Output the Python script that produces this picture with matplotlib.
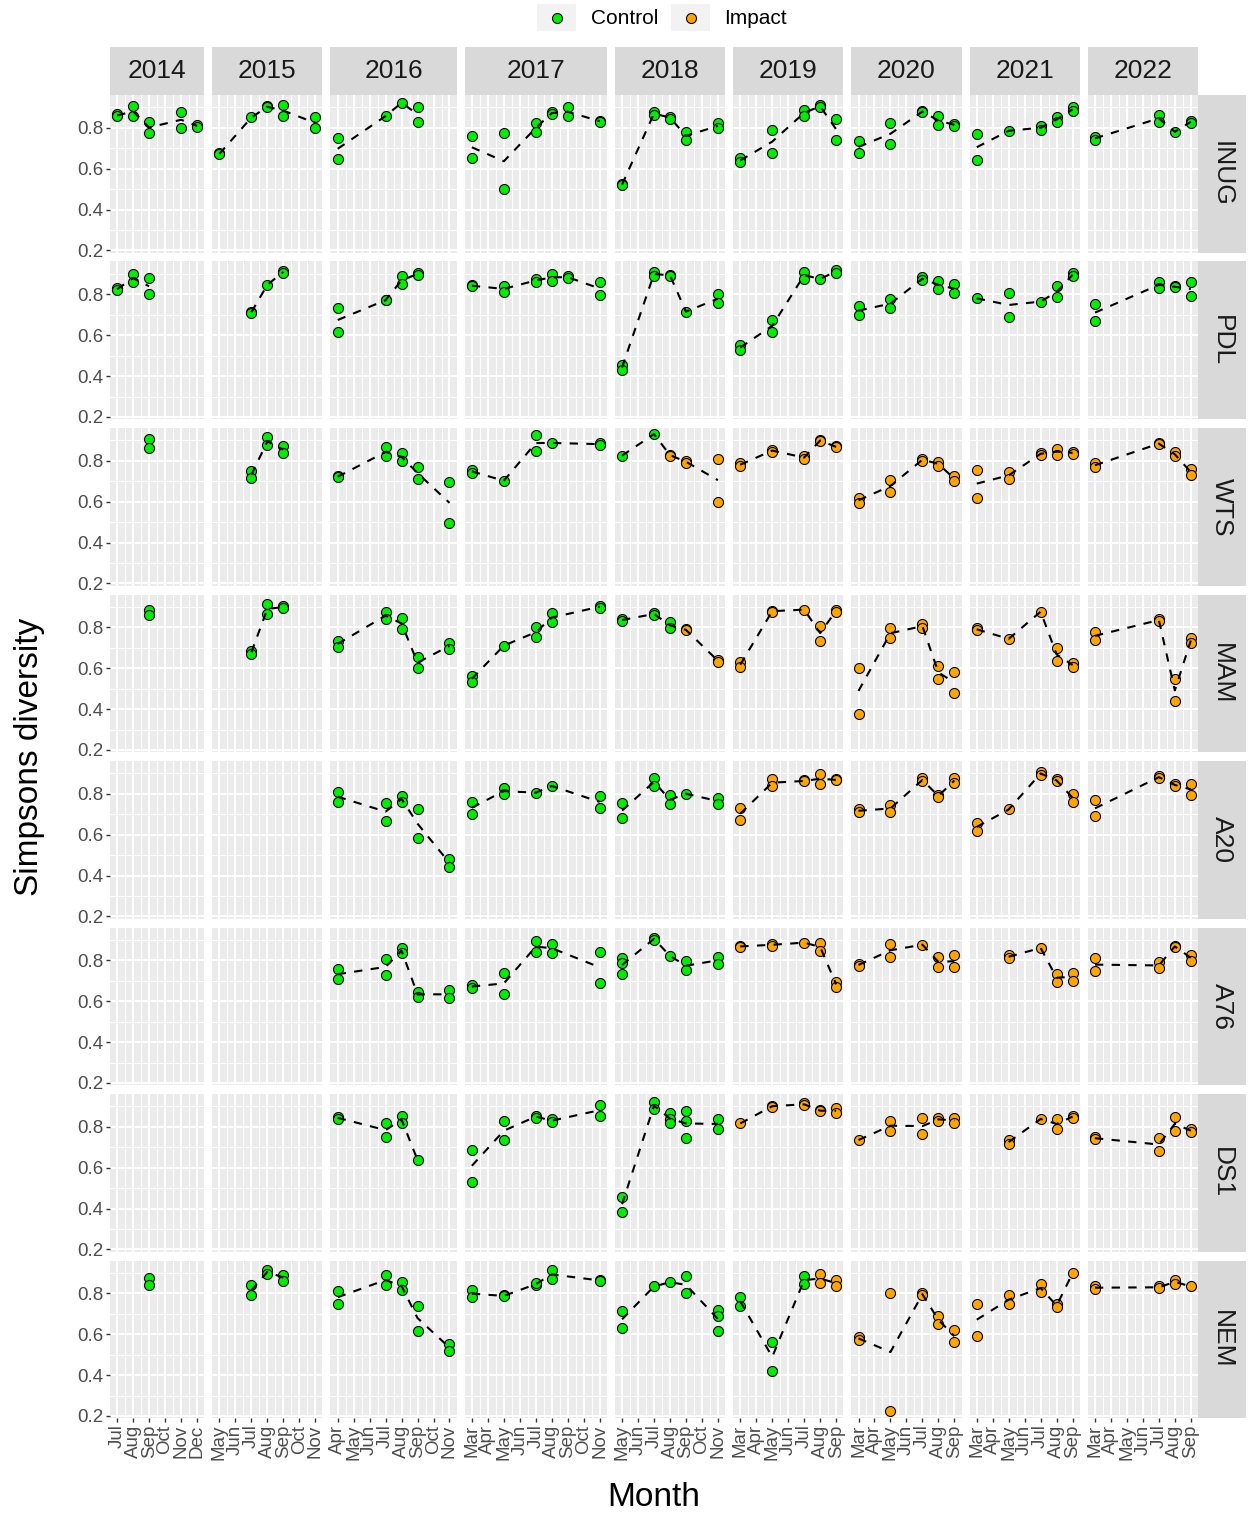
import matplotlib
matplotlib.use("Agg")
import matplotlib.pyplot as plt
from matplotlib.patches import Rectangle
from matplotlib.lines import Line2D
import pandas as pd

plt.rcParams['font.family'] = ['Liberation Sans', 'DejaVu Sans']

# ---------------- data ----------------
years = [2014, 2015, 2016, 2017, 2018, 2019, 2020, 2021, 2022]
year_months = {
    2014: [7, 8, 9, 10, 11, 12],
    2015: [5, 6, 7, 8, 9, 10, 11],
    2016: [4, 5, 6, 7, 8, 9, 10, 11],
    2017: [3, 4, 5, 6, 7, 8, 9, 10, 11],
    2018: [5, 6, 7, 8, 9, 10, 11],
    2019: [3, 4, 5, 6, 7, 8, 9],
    2020: [3, 4, 5, 6, 7, 8, 9],
    2021: [3, 4, 5, 6, 7, 8, 9],
    2022: [3, 4, 5, 6, 7, 8, 9],
}
month_abbr = {3: 'Mar', 4: 'Apr', 5: 'May', 6: 'Jun', 7: 'Jul', 8: 'Aug',
              9: 'Sep', 10: 'Oct', 11: 'Nov', 12: 'Dec'}
sites = ['INUG', 'PDL', 'WTS', 'MAM', 'A20', 'A76', 'DS1', 'NEM']

# (year, month, group, values)
INUG = [
    (2014, 7, 'C', [0.865, 0.855]), (2014, 8, 'C', [0.905, 0.855]), (2014, 9, 'C', [0.83, 0.772]),
    (2014, 11, 'C', [0.878, 0.80]), (2014, 12, 'C', [0.813, 0.805]),
    (2015, 5, 'C', [0.675, 0.67]), (2015, 7, 'C', [0.85]), (2015, 8, 'C', [0.905, 0.90]),
    (2015, 9, 'C', [0.91, 0.857]), (2015, 11, 'C', [0.85, 0.797]),
    (2016, 4, 'C', [0.748, 0.646]), (2016, 7, 'C', [0.857]), (2016, 8, 'C', [0.922]),
    (2016, 9, 'C', [0.902, 0.83]),
    (2017, 3, 'C', [0.759, 0.65]), (2017, 5, 'C', [0.772, 0.50]), (2017, 7, 'C', [0.821, 0.777]),
    (2017, 8, 'C', [0.878, 0.865]), (2017, 9, 'C', [0.899, 0.857]), (2017, 11, 'C', [0.834, 0.83]),
    (2018, 5, 'C', [0.524, 0.52]), (2018, 7, 'C', [0.878, 0.86]), (2018, 8, 'C', [0.854, 0.845]),
    (2018, 9, 'C', [0.78, 0.74]), (2018, 11, 'C', [0.821, 0.797]),
    (2019, 3, 'C', [0.65, 0.63]), (2019, 5, 'C', [0.789, 0.675]), (2019, 7, 'C', [0.889, 0.857]),
    (2019, 8, 'C', [0.91, 0.90]), (2019, 9, 'C', [0.845, 0.74]),
    (2020, 3, 'C', [0.737, 0.675]), (2020, 5, 'C', [0.821, 0.72]), (2020, 7, 'C', [0.883, 0.875]),
    (2020, 8, 'C', [0.857, 0.813]), (2020, 9, 'C', [0.82, 0.808]),
    (2021, 3, 'C', [0.767, 0.642]), (2021, 5, 'C', [0.785]), (2021, 7, 'C', [0.81, 0.79]),
    (2021, 8, 'C', [0.85, 0.83]), (2021, 9, 'C', [0.90, 0.88]),
    (2022, 3, 'C', [0.756, 0.74]), (2022, 7, 'C', [0.862, 0.83]), (2022, 8, 'C', [0.78]),
    (2022, 9, 'C', [0.834, 0.824]),
]
PDL = [
    (2014, 7, 'C', [0.83, 0.82]), (2014, 8, 'C', [0.898, 0.859]), (2014, 9, 'C', [0.878, 0.80]),
    (2015, 7, 'C', [0.715, 0.71]), (2015, 8, 'C', [0.846]), (2015, 9, 'C', [0.914, 0.905]),
    (2016, 4, 'C', [0.731, 0.617]), (2016, 7, 'C', [0.772, 0.77]), (2016, 8, 'C', [0.887, 0.849]),
    (2016, 9, 'C', [0.903, 0.895]),
    (2017, 3, 'C', [0.845, 0.838]), (2017, 5, 'C', [0.842, 0.81]), (2017, 7, 'C', [0.875, 0.86]),
    (2017, 8, 'C', [0.90, 0.865]), (2017, 9, 'C', [0.887, 0.88]), (2017, 11, 'C', [0.859, 0.797]),
    (2018, 5, 'C', [0.454, 0.43]), (2018, 7, 'C', [0.908, 0.89]), (2018, 8, 'C', [0.895, 0.89]),
    (2018, 9, 'C', [0.715]), (2018, 11, 'C', [0.80, 0.756]),
    (2019, 3, 'C', [0.552, 0.527]), (2019, 5, 'C', [0.674, 0.617]), (2019, 7, 'C', [0.911, 0.875]),
    (2019, 8, 'C', [0.875]), (2019, 9, 'C', [0.919, 0.905]),
    (2020, 3, 'C', [0.74, 0.70]), (2020, 5, 'C', [0.777, 0.731]), (2020, 7, 'C', [0.882, 0.87]),
    (2020, 8, 'C', [0.865, 0.826]), (2020, 9, 'C', [0.849, 0.805]),
    (2021, 3, 'C', [0.78]), (2021, 5, 'C', [0.805, 0.69]), (2021, 7, 'C', [0.764]),
    (2021, 8, 'C', [0.838, 0.784]), (2021, 9, 'C', [0.903, 0.887]),
    (2022, 3, 'C', [0.751, 0.669]), (2022, 7, 'C', [0.862, 0.83]), (2022, 8, 'C', [0.838, 0.835]),
    (2022, 9, 'C', [0.862, 0.789]),
]
WTS = [
    (2014, 9, 'C', [0.908, 0.862]),
    (2015, 7, 'C', [0.748, 0.715]), (2015, 8, 'C', [0.914, 0.875]), (2015, 9, 'C', [0.87, 0.838]),
    (2016, 4, 'C', [0.723, 0.72]), (2016, 7, 'C', [0.865, 0.821]), (2016, 8, 'C', [0.838, 0.80]),
    (2016, 9, 'C', [0.767, 0.712]), (2016, 11, 'C', [0.694, 0.494]),
    (2017, 3, 'C', [0.756, 0.74]), (2017, 5, 'C', [0.702]), (2017, 7, 'C', [0.924, 0.849]),
    (2017, 8, 'C', [0.887]), (2017, 11, 'C', [0.887, 0.875]),
    (2018, 5, 'C', [0.825]), (2018, 7, 'C', [0.93]), (2018, 8, 'I', [0.83, 0.825]),
    (2018, 9, 'I', [0.80, 0.79]), (2018, 11, 'I', [0.81, 0.60]),
    (2019, 3, 'I', [0.789, 0.772]), (2019, 5, 'I', [0.854, 0.845]), (2019, 7, 'I', [0.821, 0.81]),
    (2019, 8, 'I', [0.903, 0.895]), (2019, 9, 'I', [0.87, 0.865]),
    (2020, 3, 'I', [0.62, 0.593]), (2020, 5, 'I', [0.707, 0.646]), (2020, 7, 'I', [0.81, 0.80]),
    (2020, 8, 'I', [0.795, 0.775]), (2020, 9, 'I', [0.723, 0.70]),
    (2021, 3, 'I', [0.756, 0.62]), (2021, 5, 'I', [0.745, 0.712]), (2021, 7, 'I', [0.838, 0.83]),
    (2021, 8, 'I', [0.859, 0.83]), (2021, 9, 'I', [0.842, 0.835]),
    (2022, 3, 'I', [0.789, 0.767]), (2022, 7, 'I', [0.887, 0.88]), (2022, 8, 'I', [0.842, 0.821]),
    (2022, 9, 'I', [0.76, 0.728]),
]
MAM = [
    (2014, 9, 'C', [0.886, 0.86]),
    (2015, 7, 'C', [0.686, 0.67]), (2015, 8, 'C', [0.914, 0.865]), (2015, 9, 'C', [0.902, 0.895]),
    (2016, 4, 'C', [0.735, 0.702]), (2016, 7, 'C', [0.873, 0.84]), (2016, 8, 'C', [0.844, 0.792]),
    (2016, 9, 'C', [0.654, 0.60]), (2016, 11, 'C', [0.724, 0.694]),
    (2017, 3, 'C', [0.564, 0.532]), (2017, 5, 'C', [0.71]), (2017, 7, 'C', [0.80, 0.751]),
    (2017, 8, 'C', [0.87, 0.824]), (2017, 11, 'C', [0.906, 0.895]),
    (2018, 5, 'C', [0.84, 0.83]), (2018, 7, 'C', [0.87, 0.86]), (2018, 8, 'C', [0.824, 0.795]),
    (2018, 9, 'I', [0.789, 0.785]), (2018, 11, 'I', [0.642, 0.63]),
    (2019, 3, 'I', [0.629, 0.605]), (2019, 5, 'I', [0.881, 0.876]), (2019, 7, 'I', [0.886]),
    (2019, 8, 'I', [0.808, 0.735]), (2019, 9, 'I', [0.886, 0.875]),
    (2020, 3, 'I', [0.60, 0.377]), (2020, 5, 'I', [0.795, 0.746]), (2020, 7, 'I', [0.816, 0.795]),
    (2020, 8, 'I', [0.61, 0.548]), (2020, 9, 'I', [0.58, 0.48]),
    (2021, 3, 'I', [0.795, 0.785]), (2021, 5, 'I', [0.743]), (2021, 7, 'I', [0.876]),
    (2021, 8, 'I', [0.697, 0.637]), (2021, 9, 'I', [0.626, 0.605]),
    (2022, 3, 'I', [0.776, 0.74]), (2022, 7, 'I', [0.84, 0.83]), (2022, 8, 'I', [0.545, 0.437]),
    (2022, 9, 'I', [0.746, 0.724]),
]
A20 = [
    (2016, 4, 'C', [0.81, 0.761]), (2016, 7, 'C', [0.756, 0.669]), (2016, 8, 'C', [0.789, 0.761]),
    (2016, 9, 'C', [0.723, 0.584]), (2016, 11, 'C', [0.483, 0.44]),
    (2017, 3, 'C', [0.761, 0.702]), (2017, 5, 'C', [0.826, 0.80]), (2017, 7, 'C', [0.805]),
    (2017, 8, 'C', [0.838]), (2017, 11, 'C', [0.789, 0.731]),
    (2018, 5, 'C', [0.756, 0.679]), (2018, 7, 'C', [0.878, 0.838]), (2018, 8, 'C', [0.793, 0.748]),
    (2018, 9, 'C', [0.80]), (2018, 11, 'C', [0.78, 0.748]),
    (2019, 3, 'I', [0.731, 0.674]), (2019, 5, 'I', [0.87, 0.838]), (2019, 7, 'I', [0.865, 0.86]),
    (2019, 8, 'I', [0.898, 0.849]), (2019, 9, 'I', [0.87, 0.865]),
    (2020, 3, 'I', [0.723, 0.71]), (2020, 5, 'I', [0.744, 0.712]), (2020, 7, 'I', [0.875, 0.86]),
    (2020, 8, 'I', [0.793, 0.785]), (2020, 9, 'I', [0.875, 0.854]),
    (2021, 3, 'I', [0.658, 0.617]), (2021, 5, 'I', [0.723]), (2021, 7, 'I', [0.908, 0.89]),
    (2021, 8, 'I', [0.87, 0.86]), (2021, 9, 'I', [0.80, 0.76]),
    (2022, 3, 'I', [0.767, 0.69]), (2022, 7, 'I', [0.887, 0.875]), (2022, 8, 'I', [0.846, 0.84]),
    (2022, 9, 'I', [0.849, 0.793]),
]
A76 = [
    (2016, 4, 'C', [0.756, 0.707]), (2016, 7, 'C', [0.805, 0.73]), (2016, 8, 'C', [0.86, 0.833]),
    (2016, 9, 'C', [0.646, 0.62]), (2016, 11, 'C', [0.654, 0.613]),
    (2017, 3, 'C', [0.681, 0.662]), (2017, 5, 'C', [0.74, 0.633]), (2017, 7, 'C', [0.893, 0.84]),
    (2017, 8, 'C', [0.881, 0.837]), (2017, 11, 'C', [0.84, 0.691]),
    (2018, 5, 'C', [0.81, 0.785, 0.735]), (2018, 7, 'C', [0.909, 0.90]), (2018, 8, 'C', [0.821]),
    (2018, 9, 'C', [0.795, 0.751]), (2018, 11, 'C', [0.816, 0.784]),
    (2019, 3, 'I', [0.87, 0.865]), (2019, 5, 'I', [0.881, 0.87]), (2019, 7, 'I', [0.886]),
    (2019, 8, 'I', [0.886, 0.844]), (2019, 9, 'I', [0.694, 0.67]),
    (2020, 3, 'I', [0.784, 0.77]), (2020, 5, 'I', [0.881, 0.816]), (2020, 7, 'I', [0.876]),
    (2020, 8, 'I', [0.816, 0.767]), (2020, 9, 'I', [0.824, 0.767]),
    (2021, 5, 'I', [0.824, 0.81]), (2021, 7, 'I', [0.86]), (2021, 8, 'I', [0.735, 0.694]),
    (2021, 9, 'I', [0.74, 0.698]),
    (2022, 3, 'I', [0.811, 0.746]), (2022, 7, 'I', [0.789, 0.76]), (2022, 8, 'I', [0.87, 0.865]),
    (2022, 9, 'I', [0.828, 0.795]),
]
DS1 = [
    (2016, 4, 'C', [0.849, 0.838]), (2016, 7, 'C', [0.816, 0.751]), (2016, 8, 'C', [0.854, 0.816]),
    (2016, 9, 'C', [0.637]),
    (2017, 3, 'C', [0.686, 0.532]), (2017, 5, 'C', [0.826, 0.735]), (2017, 7, 'C', [0.854, 0.845]),
    (2017, 8, 'C', [0.838, 0.821]), (2017, 11, 'C', [0.908, 0.854]),
    (2018, 5, 'C', [0.457, 0.385]), (2018, 7, 'C', [0.919, 0.887]), (2018, 8, 'C', [0.865, 0.838, 0.816]),
    (2018, 9, 'C', [0.875, 0.829, 0.744]), (2018, 11, 'C', [0.838, 0.789]),
    (2019, 3, 'I', [0.816]), (2019, 5, 'I', [0.903, 0.898]), (2019, 7, 'I', [0.914, 0.905]),
    (2019, 8, 'I', [0.882, 0.875]), (2019, 9, 'I', [0.89, 0.865]),
    (2020, 3, 'I', [0.735]), (2020, 5, 'I', [0.83, 0.78]), (2020, 7, 'I', [0.842, 0.764]),
    (2020, 8, 'I', [0.842, 0.83]), (2020, 9, 'I', [0.842, 0.82]),
    (2021, 5, 'I', [0.735, 0.715]), (2021, 7, 'I', [0.838]), (2021, 8, 'I', [0.838, 0.789]),
    (2021, 9, 'I', [0.854, 0.845]),
    (2022, 3, 'I', [0.748, 0.74]), (2022, 7, 'I', [0.744, 0.682]), (2022, 8, 'I', [0.849, 0.78]),
    (2022, 9, 'I', [0.789, 0.772]),
]
NEM = [
    (2014, 9, 'C', [0.875, 0.842]),
    (2015, 7, 'C', [0.838, 0.789]), (2015, 8, 'C', [0.914, 0.895]), (2015, 9, 'C', [0.891, 0.862]),
    (2016, 4, 'C', [0.813, 0.748]), (2016, 7, 'C', [0.891, 0.838]), (2016, 8, 'C', [0.854, 0.816]),
    (2016, 9, 'C', [0.74, 0.617]), (2016, 11, 'C', [0.552, 0.516]),
    (2017, 3, 'C', [0.816, 0.78]), (2017, 5, 'C', [0.789, 0.785]), (2017, 7, 'C', [0.838, 0.85]),
    (2017, 8, 'C', [0.914, 0.87]), (2017, 11, 'C', [0.865, 0.86]),
    (2018, 5, 'C', [0.715, 0.63]), (2018, 7, 'C', [0.833]), (2018, 8, 'C', [0.854]),
    (2018, 9, 'C', [0.882, 0.80]), (2018, 11, 'C', [0.718, 0.69, 0.614]),
    (2019, 3, 'C', [0.78, 0.74]), (2019, 5, 'C', [0.56, 0.418]), (2019, 7, 'C', [0.882, 0.846]),
    (2019, 8, 'I', [0.895, 0.849]), (2019, 9, 'I', [0.865, 0.833]),
    (2020, 3, 'I', [0.588, 0.57]), (2020, 5, 'I', [0.80, 0.225]), (2020, 7, 'I', [0.80, 0.79]),
    (2020, 8, 'I', [0.69, 0.65]), (2020, 9, 'I', [0.62, 0.56]),
    (2021, 3, 'I', [0.748, 0.593]), (2021, 5, 'I', [0.789, 0.748]), (2021, 7, 'I', [0.846, 0.805]),
    (2021, 8, 'I', [0.748, 0.731]), (2021, 9, 'I', [0.898]),
    (2022, 3, 'I', [0.833, 0.821]), (2022, 7, 'I', [0.833, 0.825]), (2022, 8, 'I', [0.865, 0.846]),
    (2022, 9, 'I', [0.833]),
]
site_data = {'INUG': INUG, 'PDL': PDL, 'WTS': WTS, 'MAM': MAM,
             'A20': A20, 'A76': A76, 'DS1': DS1, 'NEM': NEM}

rows = []
for s, recs in site_data.items():
    for (yr, m, g, vals) in recs:
        for v in vals:
            rows.append({'site': s, 'year': yr, 'month': m, 'group': g, 'value': v})
df = pd.DataFrame(rows)

group_colors = {'C': '#00EE00', 'I': '#FFA500'}
group_labels = {'C': 'Control', 'I': 'Impact'}

# ---------------- layout ----------------
W, H = 1251, 1516
fig = plt.figure(figsize=(W / 100, H / 100), dpi=100)

left0, right_end, top0, bottom_end = 110, 1198, 95, 1418
col_gap, row_gap = 8, 9
pad = 0.45
units = [len(year_months[y]) - 1 + 2 * pad for y in years]
unit_px = (right_end - left0 - col_gap * (len(years) - 1)) / sum(units)
col_w = [u * unit_px for u in units]
col_left = []
x = left0
for w in col_w:
    col_left.append(x)
    x += w + col_gap
row_h = (bottom_end - top0 - row_gap * (len(sites) - 1)) / len(sites)
strip_sz = 48

tick_col = '#333333'
lab_col = '#4D4D4D'

for r, site in enumerate(sites):
    y0 = top0 + r * (row_h + row_gap)
    for c, yr in enumerate(years):
        months = year_months[yr]
        ax = fig.add_axes([col_left[c] / W, 1 - (y0 + row_h) / H, col_w[c] / W, row_h / H])
        ax.set_facecolor('#EBEBEB')
        for sp in ax.spines.values():
            sp.set_visible(False)
        ax.set_xlim(months[0] - pad, months[-1] + pad)
        ax.set_ylim(0.19, 0.96)
        ax.set_xticks(months)
        ax.set_xticks([m + 0.5 for m in months[:-1]], minor=True)
        ax.set_yticks([0.2, 0.4, 0.6, 0.8])
        ax.set_yticks([0.3, 0.5, 0.7, 0.9], minor=True)
        ax.grid(which='major', color='white', lw=1.5)
        ax.grid(which='minor', color='white', lw=0.75)
        ax.set_axisbelow(True)
        ax.tick_params(which='minor', length=0)
        if r == len(sites) - 1:
            ax.set_xticklabels([month_abbr[m] for m in months], rotation=90,
                               fontsize=13.5, color=lab_col)
            ax.tick_params(axis='x', which='major', length=3.2, width=1.0, color=tick_col, pad=1.5)
        else:
            ax.tick_params(axis='x', which='major', length=0, labelbottom=False)
        if c == 0:
            ax.set_yticklabels(['0.2', '0.4', '0.6', '0.8'], fontsize=13.5, color=lab_col)
            ax.tick_params(axis='y', which='major', length=3.2, width=1.0, color=tick_col, pad=1.5)
        else:
            ax.tick_params(axis='y', which='major', length=0, labelleft=False)

        sub = df[(df.site == site) & (df.year == yr)]
        for g in ['C', 'I']:
            sg = sub[sub.group == g]
            if len(sg):
                ax.scatter(sg.month, sg.value, s=52, c=group_colors[g], edgecolors='black',
                           linewidths=0.8, zorder=3, clip_on=False)
        if len(sub):
            means = sub.groupby('month')['value'].mean().sort_index()
            ax.plot(means.index, means.values, color='black', lw=1.5,
                    linestyle=(0, (4, 4)), zorder=4)

        # top strips
        if r == 0:
            fig.patches.append(Rectangle((col_left[c] / W, 1 - top0 / H), col_w[c] / W,
                                         strip_sz / H, transform=fig.transFigure,
                                         facecolor='#D9D9D9', edgecolor='none'))
            fig.text((col_left[c] + col_w[c] / 2) / W, 1 - (top0 - strip_sz / 2) / H, str(yr),
                     ha='center', va='center', fontsize=19, color='#1A1A1A')
    # right strips
    fig.patches.append(Rectangle((right_end / W, 1 - (y0 + row_h) / H), strip_sz / W,
                                 row_h / H, transform=fig.transFigure,
                                 facecolor='#D9D9D9', edgecolor='none'))
    fig.text((right_end + strip_sz / 2) / W, 1 - (y0 + row_h / 2) / H, site,
             ha='center', va='center', rotation=-90, fontsize=19, color='#1A1A1A')

# axis titles
fig.text(30 / W, 1 - ((top0 + bottom_end) / 2) / H, 'Simpsons diversity', rotation=90,
         ha='center', va='center', fontsize=24, color='black')
fig.text(((left0 + right_end) / 2) / W, 1 - 1498 / H, 'Month', ha='center', va='center',
         fontsize=24, color='black')

# legend
leg_items = [('C', 537, 591), ('I', 671, 724)]
for g, kx, tx in leg_items:
    fig.patches.append(Rectangle((kx / W, 1 - 31 / H), 39 / W, 27 / H, transform=fig.transFigure,
                                 facecolor='#F2F2F2', edgecolor='none'))
    fig.lines.append(Line2D([(kx + 19.5) / W], [1 - 17.5 / H], transform=fig.transFigure,
                            marker='o', markersize=7.2, markerfacecolor=group_colors[g],
                            markeredgecolor='black', markeredgewidth=0.8, linestyle='none'))
    fig.text(tx / W, 1 - 18 / H, group_labels[g], ha='left', va='center', fontsize=15,
             color='black')

fig.savefig('out.png', dpi=100)
